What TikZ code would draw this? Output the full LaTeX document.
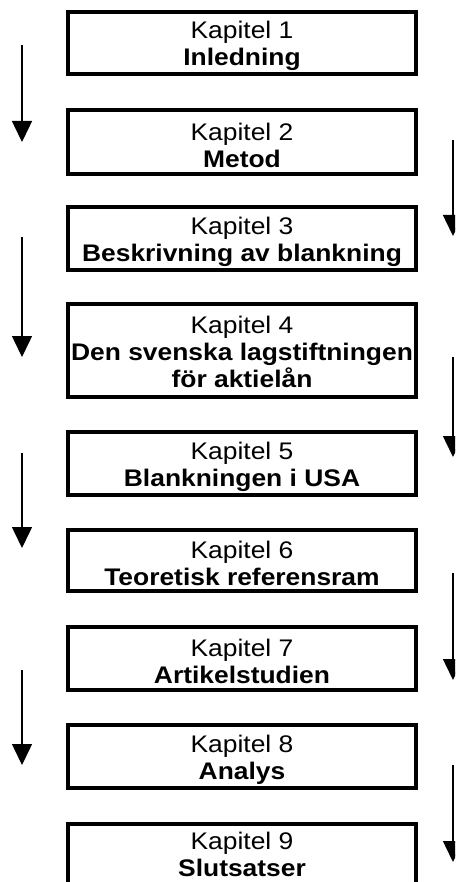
\documentclass[tikz,border=0pt]{standalone}
\usepackage{fontspec}
\setmainfont{Liberation Sans}[FakeStretch=1.1]
\usetikzlibrary{arrows.meta}
\begin{document}
\begin{tikzpicture}[x=1pt,y=-1pt,
  box/.style={draw, line width=3.5pt, minimum width=348pt, inner sep=0pt},
  txt/.style={align=center, font=\fontsize{24}{27}\selectfont, inner sep=0pt},
  arr/.style={line width=1.5pt, -{Triangle[width=20pt,length=21pt]}}]
\clip (0,0) rectangle (455,882);
\fill[white] (0,0) rectangle (455,882);
\node[box, minimum height=62pt, label={[txt, yshift=-3pt]center:Kapitel 1\\\textbf{Inledning}}] (k1) at (242,43) {};
\node[box, minimum height=64pt, label={[txt, yshift=-3pt]center:Kapitel 2\\\textbf{Metod}}] (k2) at (242,142) {};
\node[box, minimum height=63pt, label={[txt, yshift=-3pt]center:Kapitel 3\\\textbf{Beskrivning av blankning}}] (k3) at (242,238.5) {};
\node[box, minimum height=93pt, label={[txt, yshift=-1pt]center:Kapitel 4\\\textbf{Den svenska lagstiftningen}\\\textbf{för aktielån}}] (k4) at (242,350.5) {};
\node[box, minimum height=63pt, label={[txt, yshift=-3pt]center:Kapitel 5\\\textbf{Blankningen i USA}}] (k5) at (242,463.5) {};
\node[box, minimum height=61pt, label={[txt, yshift=-3pt]center:Kapitel 6\\\textbf{Teoretisk referensram}}] (k6) at (242,560.5) {};
\node[box, minimum height=63pt, label={[txt, yshift=-3pt]center:Kapitel 7\\\textbf{Artikelstudien}}] (k7) at (242,658.5) {};
\node[box, minimum height=63pt, label={[txt, yshift=-3pt]center:Kapitel 8\\\textbf{Analys}}] (k8) at (242,756.5) {};
\node[box, minimum height=63pt, label={[txt, yshift=1pt]center:Kapitel 9\\\textbf{Slutsatser}}] (k9) at (242,855.5) {};
% left arrows
\coordinate (l1s) at (22,45);  \coordinate (l1e) at (22,142);
\coordinate (l2s) at (22,237); \coordinate (l2e) at (22,357);
\coordinate (l3s) at (22,453); \coordinate (l3e) at (22,548);
\coordinate (l4s) at (22,670); \coordinate (l4e) at (22,765);
\draw[arr] (l1s) -- (l1e);
\draw[arr] (l2s) -- (l2e);
\draw[arr] (l3s) -- (l3e);
\draw[arr] (l4s) -- (l4e);
% right arrows
\coordinate (r1s) at (453,140); \coordinate (r1e) at (453,236);
\coordinate (r2s) at (453,357); \coordinate (r2e) at (453,457);
\coordinate (r3s) at (453,573); \coordinate (r3e) at (453,680);
\coordinate (r4s) at (453,765); \coordinate (r4e) at (453,862);
\draw[arr] (r1s) -- (r1e);
\draw[arr] (r2s) -- (r2e);
\draw[arr] (r3s) -- (r3e);
\draw[arr] (r4s) -- (r4e);
\end{tikzpicture}
\end{document}
